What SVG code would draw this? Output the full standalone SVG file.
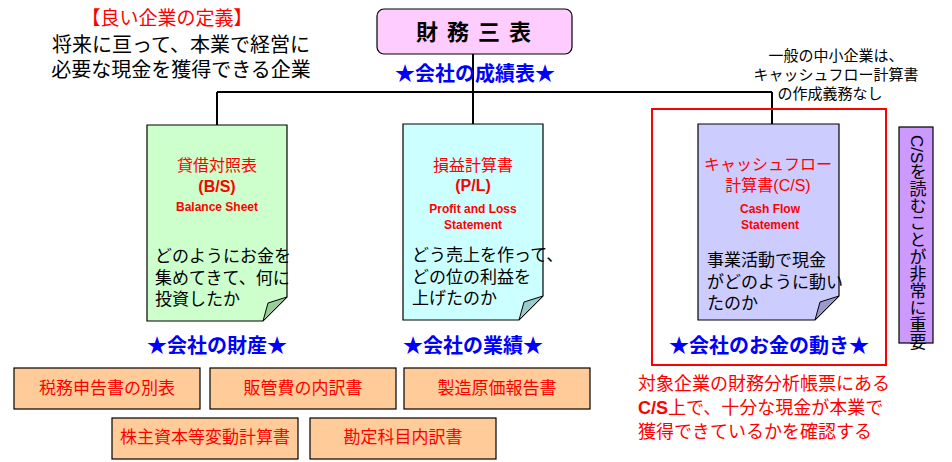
<svg xmlns="http://www.w3.org/2000/svg" width="952" height="462" viewBox="0 0 952 462">
<style>
text{font-family:"Liberation Sans","Noto Sans CJK JP",sans-serif}
.doc{stroke:#000;stroke-width:1.2}
.fold{stroke:#000;stroke-width:1}
.t{fill:#f00;font-size:16px;text-anchor:middle}
.e{fill:#f00;font-size:12px;font-weight:bold;text-anchor:middle}
.b{fill:#000;font-size:17px}
.star{fill:#00f;font-size:20px;font-weight:bold;text-anchor:middle}
.ob{fill:#FFCC99;stroke:#000;stroke-width:1.2}
.ot{fill:#f00;font-size:17px;text-anchor:middle}
</style>
<rect width="952" height="462" fill="#fff"/>
<g id="connectors" stroke="#000" stroke-width="2" fill="none">
<path d="M473 54V125M217 92H772M217 92V125M772 92V124"/>
</g>
<g id="definition">
<text x="167" y="25" fill="#f00" font-size="19" text-anchor="middle">【良い企業の定義】</text>
<text x="181" y="52" font-size="20" text-anchor="middle">将来に亘って、本業で経営に</text>
<text x="181" y="77" font-size="20" text-anchor="middle">必要な現金を獲得できる企業</text>
</g>
<g id="title">
<rect x="377" y="9" width="195" height="45" rx="7" fill="#FFCCFF" stroke="#000" stroke-width="1.2"/>
<text x="478" y="40" font-size="22" font-weight="bold" text-anchor="middle" letter-spacing="9">財務三表</text>
<text x="475" y="81" class="star">★会社の成績表★</text>
</g>
<g id="note">
<text x="836" y="61" font-size="15" text-anchor="middle">一般の中小企業は、</text>
<text x="836" y="80" font-size="15" text-anchor="middle">キャッシュフロー計算書</text>
<text x="830" y="99" font-size="15" text-anchor="middle">の作成義務なし</text>
</g>
<g id="bs">
<path class="doc" d="M147 125H287V297L263 321H147Z" fill="#CCFFCC"/>
<path class="fold" d="M287 297L263 321L268 303Z" fill="#99CC99"/>
<text x="217" y="171" class="t">貸借対照表</text>
<text x="217" y="192" class="t" font-weight="bold">(B/S)</text>
<text x="217" y="211" class="e">Balance Sheet</text>
<text x="155" y="262" class="b">どのようにお金を</text>
<text x="155" y="284" class="b">集めてきて、何に</text>
<text x="155" y="305" class="b">投資したか</text>
</g>
<g id="pl">
<path class="doc" d="M403 124H543V296L519 320H403Z" fill="#CCFFFF"/>
<path class="fold" d="M543 296L519 320L524 302Z" fill="#99CCCC"/>
<text x="473" y="171" class="t">損益計算書</text>
<text x="473" y="191" class="t" font-weight="bold">(P/L)</text>
<text x="473" y="213" class="e">Profit and Loss</text>
<text x="473" y="229" class="e">Statement</text>
<text x="412" y="261" class="b">どう売上を作って、</text>
<text x="412" y="283" class="b">どの位の利益を</text>
<text x="412" y="304" class="b">上げたのか</text>
</g>
<g id="cs">
<rect x="652" y="109" width="234" height="256" fill="none" stroke="#f00" stroke-width="2"/>
<path class="doc" d="M698 124H839V296L815 320H698Z" fill="#CCCCFF"/>
<path class="fold" d="M839 296L815 320L820 302Z" fill="#9999CC"/>
<text x="768" y="170" class="t">キャッシュフロー</text>
<text x="768" y="191" class="t">計算書(C/S)</text>
<text x="770" y="213" class="e">Cash Flow</text>
<text x="770" y="229" class="e">Statement</text>
<text x="707" y="266" class="b">事業活動で現金</text>
<text x="707" y="288" class="b">がどのように動い</text>
<text x="707" y="309" class="b">たのか</text>
<text x="769" y="353" class="star">★会社のお金の動き★</text>
</g>
<g id="important">
<rect x="899" y="127" width="34" height="216" fill="#CC99FF" stroke="#000" stroke-width="1.2"/>
<text x="916" y="135" font-size="17" style="writing-mode:vertical-rl">C/Sを読むことが非常に重要</text>
</g>
<text x="217" y="353" class="star">★会社の財産★</text>
<text x="473" y="353" class="star">★会社の業績★</text>
<g id="b1"><rect class="ob" x="14" y="368" width="186" height="41"/><text x="107" y="394" class="ot">税務申告書の別表</text></g>
<g id="b2"><rect class="ob" x="210" y="368" width="186" height="41"/><text x="303" y="394" class="ot">販管費の内訳書</text></g>
<g id="b3"><rect class="ob" x="404" y="368" width="186" height="41"/><text x="497" y="394" class="ot">製造原価報告書</text></g>
<g id="b4"><rect class="ob" x="112" y="418" width="186" height="41"/><text x="205" y="443" class="ot">株主資本等変動計算書</text></g>
<g id="b5"><rect class="ob" x="310" y="418" width="186" height="41"/><text x="403" y="443" class="ot">勘定科目内訳書</text></g>
<g id="conclusion" fill="#f00" font-size="18">
<text x="638" y="390">対象企業の財務分析帳票にある</text>
<text x="638" y="414"><tspan font-weight="bold">C/S</tspan>上で、十分な現金が本業で</text>
<text x="638" y="438">獲得できているかを確認する</text>
</g>
</svg>
